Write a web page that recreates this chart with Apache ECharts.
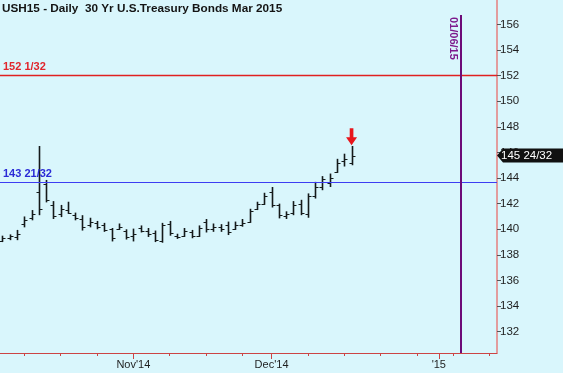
<!DOCTYPE html>
<html>
<head>
<meta charset="utf-8">
<script src="https://cdn.jsdelivr.net/npm/echarts@6/dist/echarts.min.js"></script>
<style>
html,body{margin:0;padding:0;background:#d9f6fc;}
#c{width:563px;height:373px;}
</style>
</head>
<body>
<div id="c"></div>
<script>
// ---- data ----
const titleText = 'USH15 - Daily  30 Yr U.S.Treasury Bonds Mar 2015';
const dates = [
 '2014-10-08','2014-10-09','2014-10-10',
 '2014-10-13','2014-10-14','2014-10-15','2014-10-16','2014-10-17',
 '2014-10-20','2014-10-21','2014-10-22','2014-10-23','2014-10-24',
 '2014-10-27','2014-10-28','2014-10-29','2014-10-30','2014-10-31',
 '2014-11-03','2014-11-04','2014-11-05','2014-11-06','2014-11-07',
 '2014-11-10','2014-11-11','2014-11-12','2014-11-13','2014-11-14',
 '2014-11-17','2014-11-18','2014-11-19','2014-11-20','2014-11-21',
 '2014-11-24','2014-11-25','2014-11-26','2014-11-28',
 '2014-12-01','2014-12-02','2014-12-03','2014-12-04','2014-12-05',
 '2014-12-08','2014-12-09','2014-12-10','2014-12-11','2014-12-12',
 '2014-12-15','2014-12-16'
];
const futureDates = [
 '2014-12-17','2014-12-18','2014-12-19',
 '2014-12-22','2014-12-23','2014-12-24','2014-12-25','2014-12-26',
 '2014-12-29','2014-12-30','2014-12-31','2015-01-01','2015-01-02',
 '2015-01-05','2015-01-06','2015-01-07','2015-01-08','2015-01-09',
 '2015-01-12','2015-01-13'
];
const opens  = [139.1,139.3,139.4,140.4,140.9,142.9,143.5,141.9,141.2,141.5,141.1,140.8,140.3,140.5,140.3,140.0,140.0,139.9,139.5,140.1,139.9,139.7,139.1,140.4,139.5,139.5,139.8,139.5,140.6,140.0,140.2,140.3,140.0,140.3,140.6,141.6,142.0,142.9,141.9,141.0,141.3,142.0,141.2,142.6,143.3,143.6,144.5,145.3,145.2];
const highs  = [139.5,139.6,139.95,141.0,141.5,146.5,143.85,142.2,141.9,142.15,141.3,141.1,140.9,140.65,140.5,140.1,140.45,140.0,140.05,140.3,140.1,139.9,140.5,140.65,139.65,140.1,139.95,140.3,140.8,140.45,140.4,140.6,140.6,140.8,141.6,142.15,142.85,143.3,142.0,141.4,142.2,142.3,142.8,143.7,144.15,144.35,145.5,145.9,146.5];
const lows   = [139.0,139.15,139.15,140.15,140.7,141.1,142.1,140.8,140.95,141.2,140.7,139.9,140.15,140.0,139.8,139.05,139.95,139.2,139.05,139.75,139.4,139.0,138.95,139.5,139.25,139.4,139.3,139.4,139.75,139.8,139.8,139.55,139.95,140.2,140.5,141.5,141.9,141.7,140.85,140.8,141.1,141.1,140.9,142.4,143.05,143.3,144.4,144.9,145.0];
const closes = [139.3,139.45,139.6,140.7,141.2,141.6,142.3,141.0,141.6,141.3,140.9,140.2,140.6,140.2,139.95,139.3,140.2,139.4,139.6,139.9,139.6,139.2,140.3,139.7,139.4,139.9,139.5,140.1,140.0,140.2,140.0,139.8,140.3,140.5,141.4,142.0,142.6,141.9,141.1,141.2,141.9,141.3,142.6,143.3,143.9,144.0,145.2,145.5,145.75];
const levelValues = [152 + 1/32, 143 + 21/32];
const levelLabels = ['152 1/32', '143 21/32'];
const levelColors = ['#e02020', '#3d3df2'];
const levelWidths = [1.4, 1.2];
const levelTextColors = ['#e0262c', '#2a2ad6'];
const lastPrice = 145 + 24/32;
const lastPriceLabel = '145 24/32';
const markerDate = '2015-01-06';
const markerLabel = '01/06/15';
const yTicks = [132,134,136,138,140,142,144,146,148,150,152,154,156];

// ---- derived ----
const allDates = dates.concat(futureDates);
const monthNames = ['Jan','Feb','Mar','Apr','May','Jun','Jul','Aug','Sep','Oct','Nov','Dec'];
const majorIdx = [], minorIdx = [], majorText = {};
allDates.forEach(function(d, i){
  const dt = new Date(d + 'T00:00:00Z');
  if (i > 0 && allDates[i-1].slice(0,7) !== d.slice(0,7)) {
    majorIdx.push(i);
    const m = dt.getUTCMonth(), yy = String(dt.getUTCFullYear()).slice(2);
    majorText[i] = m === 0 ? "'" + yy : monthNames[m] + "'" + yy;
  }
  if (dt.getUTCDay() === 1) minorIdx.push(i);
});
const ohlc = dates.map(function(d, i){ return [i, opens[i], highs[i], lows[i], closes[i]]; });
const markerIdx = allDates.indexOf(markerDate);
const lastIdx = dates.length - 1;
const X_MIN = -0.34, X_MAX = 68.0, Y_MIN = 130.34, Y_MAX = 157.9, MARK_TOP = 156.73;

const chart = echarts.init(document.getElementById('c'), null, {renderer:'canvas'});
const FONT = 'Liberation Sans, Arial, sans-serif';

function levelSeries(k) {
  return {
    type: 'line', data: [], silent: true, z: 3,
    markLine: {
      silent: true, symbol: ['none','none'], animation: false,
      lineStyle: {color: levelColors[k], width: levelWidths[k], type: 'solid', opacity: 1},
      label: {show: true, position: 'insideStartTop', formatter: levelLabels[k], distance: [3, 3],
        fontFamily: FONT, fontSize: 11, fontWeight: 'bold', color: levelTextColors[k]},
      data: [{yAxis: levelValues[k]}]
    }
  };
}

const option = {
  animation: false,
  backgroundColor: '#d9f6fc',
  title: {
    text: titleText, left: 2, top: 3, padding: 0,
    textStyle: {fontFamily: FONT, fontSize: 11.75, fontWeight: 'bold', color: '#141414'}
  },
  grid: {left: 0, right: 66, top: 0, bottom: 20, containLabel: false},
  xAxis: [{
    type: 'value', min: X_MIN, max: X_MAX, position: 'bottom',
    splitLine: {show: false},
    axisLine: {show: true, onZero: false, lineStyle: {color: '#cc4444', width: 1}},
    axisTick: {show: true, customValues: majorIdx, length: 6, inside: false, lineStyle: {color: '#cc4444'}},
    axisLabel: {show: true, customValues: majorIdx, formatter: function(v){ return majorText[Math.round(v)] || ''; },
      fontFamily: FONT, fontSize: 11, color: '#1e1e1e', margin: 6}
  },{
    type: 'value', min: X_MIN, max: X_MAX, position: 'bottom',
    splitLine: {show: false},
    axisLine: {show: false, onZero: false},
    axisTick: {show: true, customValues: minorIdx, length: 3, inside: false, lineStyle: {color: '#cc4444'}},
    axisLabel: {show: false}
  }],
  yAxis: {
    type: 'value', position: 'right', min: Y_MIN, max: Y_MAX, scale: true,
    splitLine: {show: false},
    axisLine: {show: true, onZero: false, lineStyle: {color: '#e57f7f', width: 1.5}},
    axisTick: {show: true, customValues: yTicks, length: 4, lineStyle: {color: '#555'}},
    axisLabel: {customValues: yTicks, fontFamily: FONT, fontSize: 11.5, color: '#1e1e1e', margin: 3}
  },
  series: [
    levelSeries(0),
    levelSeries(1),
    {
      type: 'line', data: [], silent: true, z: 3,
      markLine: {
        silent: true, symbol: ['none','none'], animation: false,
        lineStyle: {color: '#6d0a78', width: 2, type: 'solid', opacity: 1},
        label: {show: false},
        data: [[{coord: [markerIdx, MARK_TOP]}, {coord: [markerIdx, Y_MIN]}]]
      }
    },
    {
      type: 'custom',
      data: ohlc, z: 4,
      encode: {x: 0, y: [1,2,3,4]},
      renderItem: function(params, api){
        const x = api.value(0);
        const o = api.coord([x, api.value(1)]);
        const h = api.coord([x, api.value(2)]);
        const l = api.coord([x, api.value(3)]);
        const c = api.coord([x, api.value(4)]);
        const px = Math.round(h[0]) + 0.5;
        const col = '#141a1a';
        return {type: 'group', children: [
          {type: 'line', shape: {x1: px, y1: h[1], x2: px, y2: l[1]}, style: {stroke: col, lineWidth: 1.6}},
          {type: 'line', shape: {x1: px - 3, y1: Math.round(o[1]) + 0.5, x2: px, y2: Math.round(o[1]) + 0.5}, style: {stroke: col, lineWidth: 1}},
          {type: 'line', shape: {x1: px, y1: Math.round(c[1]) + 0.5, x2: px + 3, y2: Math.round(c[1]) + 0.5}, style: {stroke: col, lineWidth: 1}}
        ]};
      },
      markPoint: {
        silent: true,
        data: [{
          coord: [lastIdx, highs[lastIdx]],
          symbol: 'path://M3,0 L7,0 L7,9 L11,9 L5,17 L-1,9 L3,9 Z',
          symbolSize: [11, 17], symbolOffset: [0, '-55%'],
          itemStyle: {color: '#e8161c'}, label: {show: false}
        }]
      }
    }
  ]
};
chart.setOption(option);

// price tag and rotated marker label, placed through the axes' scales
const tagY = chart.convertToPixel({yAxisIndex: 0}, lastPrice);
const axisX = chart.convertToPixel({xAxisIndex: 0}, X_MAX);
const markX = chart.convertToPixel({xAxisIndex: 0}, markerIdx);
const topY = chart.convertToPixel({yAxisIndex: 0}, MARK_TOP);
chart.setOption({
  graphic: [
    {type: 'polygon', shape: {points: [[axisX, tagY], [axisX + 6, tagY - 7], [563, tagY - 7], [563, tagY + 7], [axisX + 6, tagY + 7]]},
     style: {fill: '#111'}, z: 100},
    {type: 'text', x: axisX + 4, y: tagY, z: 101,
     style: {text: lastPriceLabel, fill: '#ffffff', font: '11.5px ' + FONT, textAlign: 'left', textVerticalAlign: 'middle'}},
    {type: 'text', x: markX - 8, y: topY + 2, rotation: -Math.PI / 2, z: 101,
     style: {text: markerLabel, fill: '#7d1a8c', font: 'bold 11px ' + FONT, textAlign: 'left', textVerticalAlign: 'middle'}}
  ]
});
</script>
</body>
</html>
